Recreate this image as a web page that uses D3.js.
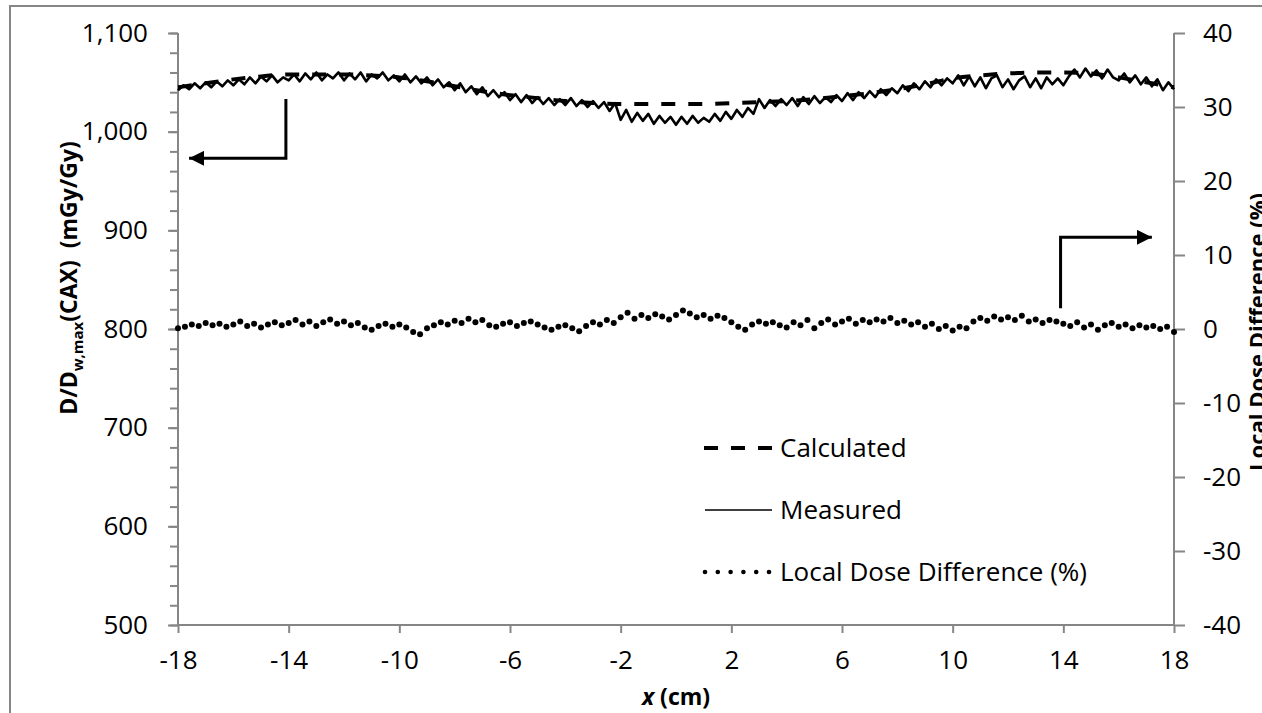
<!DOCTYPE html>
<html>
<head>
<meta charset="utf-8">
<script src="https://cdn.jsdelivr.net/npm/d3@7/dist/d3.min.js"></script>
<style>
  html, body { margin: 0; padding: 0; background: #fff; overflow: hidden; }
  text { font-family: "Open Sans", sans-serif; fill: #000; }
</style>
</head>
<body>
<div id="chart"></div>
<script>
// x positions (cm)
const xStart = -18;
const measuredStep = 0.2;
const diffStep = 0.25;
const calcX = d3.range(-18, 19, 1);

// calculated profile, one value per cm (mGy/Gy)
const calculated = [
  1045, 1049, 1053, 1056, 1058, 1058, 1058, 1057, 1055, 1051,
  1046, 1041, 1037, 1034, 1031, 1029, 1028, 1028, 1028, 1028,
  1029, 1030, 1031, 1033, 1036, 1039, 1043, 1048, 1054, 1057,
  1059, 1060, 1060, 1059, 1055, 1050, 1045
];

// measured profile, every 0.2 cm (mGy/Gy)
const measured = [
  1042, 1047, 1043, 1049, 1044, 1050, 1045, 1051, 1046, 1052,
  1047, 1053, 1048, 1055, 1049, 1056, 1051, 1057, 1050, 1055,
  1052, 1058, 1051, 1059, 1053, 1060, 1052, 1058, 1054, 1060,
  1052, 1059, 1053, 1060, 1051, 1058, 1054, 1060, 1052, 1057,
  1051, 1058, 1050, 1056, 1049, 1055, 1047, 1053, 1045, 1050,
  1042, 1049, 1040, 1046, 1038, 1045, 1036, 1042, 1035, 1040,
  1032, 1038, 1030, 1037, 1029, 1035, 1028, 1034, 1027, 1033,
  1027, 1034, 1026, 1032, 1025, 1031, 1024, 1030, 1021, 1029,
  1012, 1022, 1010, 1019, 1011, 1018, 1008, 1016, 1009, 1015,
  1007, 1015, 1008, 1016, 1009, 1014, 1010, 1018, 1011, 1020,
  1013, 1022, 1015, 1024, 1018, 1033, 1024, 1032, 1026, 1033,
  1027, 1034, 1026, 1035, 1028, 1036, 1029, 1035, 1030, 1037,
  1031, 1039, 1032, 1040, 1034, 1041, 1035, 1043, 1037, 1044,
  1039, 1047, 1041, 1049, 1043, 1051, 1045, 1053, 1047, 1054,
  1049, 1057, 1047, 1056, 1046, 1055, 1044, 1054, 1057, 1045,
  1053, 1043, 1052, 1056, 1045, 1054, 1044, 1055, 1048, 1054,
  1047, 1056, 1063, 1055, 1064, 1056, 1062, 1054, 1063, 1055,
  1052, 1059, 1050, 1057, 1048, 1055, 1046, 1053, 1042, 1050,
  1043
];

// local dose difference, every 0.25 cm (%)
const doseDiff = [
  0.1, 0.3, 0.6, 0.4, 0.8, 0.5, 0.7, 0.3,
  0.6, 1.0, 0.4, 0.7, 0.2, 0.6, 0.9, 0.5,
  0.8, 1.2, 0.6, 1.0, 0.4, 0.9, 1.3, 0.7,
  1.0, 0.5, 0.8, 0.2, -0.1, 0.4, 0.7, 0.3,
  0.6, 0.2, -0.4, -0.7, 0.1, 0.5, 0.9, 0.6,
  1.1, 0.8, 1.4, 0.9, 1.2, 0.5, 0.3, 0.7,
  0.9, 0.4, 0.8, 1.0, 0.6, 0.2, -0.1, 0.3,
  0.5, 0.1, -0.3, 0.4, 0.9, 0.6, 1.2, 0.8,
  1.6, 2.2, 1.4, 1.9, 1.5, 2.0, 1.7, 1.3,
  1.9, 2.5, 2.1, 1.6, 1.9, 1.4, 1.8, 1.5,
  0.9, 0.3, -0.1, 0.6, 1.0, 0.7, 0.9, 0.5,
  0.2, 0.9, 0.5, 1.2, 0.1, 0.8, 1.3, 0.6,
  1.0, 1.4, 0.7, 1.2, 0.9, 1.3, 1.0, 1.5,
  0.8, 1.1, 0.6, 0.9, 0.3, 0.7, 0.0, 0.4,
  -0.2, 0.3, 0.1, 1.0, 1.5, 1.1, 1.7, 1.3,
  1.6, 1.2, 1.8, 1.0, 1.3, 0.8, 1.2, 1.0,
  0.7, 0.4, 0.9, 0.2, 0.6, -0.1, 0.5, 0.8,
  0.3, 0.6, 0.1, 0.5, 0.2, 0.4, 0.0, 0.3,
  -0.4
];

const xTicks = [-18, -14, -10, -6, -2, 2, 6, 10, 14, 18];
const leftTicks = [500, 600, 700, 800, 900, 1000, 1100];
const rightTicks = [-40, -30, -20, -10, 0, 10, 20, 30, 40];
const legendLabels = ['Calculated', 'Measured', 'Local Dose Difference (%)'];

// arrow annotations in data units
const leftArrow = { x: -14.1, yFrom: 1033, yTo: 973, xTip: -17.6 };
const rightArrow = { x: 13.9, yFrom: 2.8, yTo: 12.4, xTip: 17.2 };

const width = 1262, height = 713;
const plot = { left: 178, right: 1174, top: 33, bottom: 625 };
const axisColor = '#868686';
const plainNum = d => String(d);   // hyphen minus, like the source

const svg = d3.select('#chart').append('svg')
  .attr('width', width)
  .attr('height', height);

// outer chart frame (runs off the right and bottom edges)
svg.append('rect')
  .attr('x', 10).attr('y', 6)
  .attr('width', 1300).attr('height', 760)
  .attr('fill', 'none')
  .attr('stroke', axisColor)
  .attr('stroke-width', 2);

const x = d3.scaleLinear().domain([-18, 18]).range([plot.left, plot.right]);
const yL = d3.scaleLinear().domain([500, 1100]).range([plot.bottom, plot.top]);
const yR = d3.scaleLinear().domain([-40, 40]).range([plot.bottom, plot.top]);

// left axis with minor ticks
const leftMinor = svg.append('g')
  .attr('transform', `translate(${plot.left},0)`)
  .call(d3.axisLeft(yL).tickValues(d3.range(500, 1101, 20)).tickSize(8).tickFormat(''));
leftMinor.select('.domain').remove();
leftMinor.selectAll('line').attr('stroke', axisColor).attr('stroke-width', 2);

const leftAxis = svg.append('g')
  .attr('transform', `translate(${plot.left},0)`)
  .call(d3.axisLeft(yL).tickValues(leftTicks).tickSize(10).tickPadding(20)
    .tickFormat(d3.format(',')));

const rightAxis = svg.append('g')
  .attr('transform', `translate(${plot.right},0)`)
  .call(d3.axisRight(yR).tickValues(rightTicks).tickSize(11).tickPadding(18)
    .tickFormat(plainNum));

const bottomAxis = svg.append('g')
  .attr('transform', `translate(0,${plot.bottom})`)
  .call(d3.axisBottom(x).tickValues(xTicks).tickSize(8).tickPadding(18)
    .tickFormat(plainNum));

[leftAxis, rightAxis, bottomAxis].forEach(g => {
  g.select('.domain').attr('stroke', axisColor).attr('stroke-width', 2);
  g.selectAll('.tick line').attr('stroke', axisColor).attr('stroke-width', 2);
  g.selectAll('.tick text')
    .attr('fill', '#000')
    .style('font-family', '"Open Sans", sans-serif')
    .style('font-size', '26px');
});
leftAxis.select('.domain').attr('d', `M0,${plot.top}V${plot.bottom}`);
rightAxis.select('.domain').attr('d', `M0,${plot.top}V${plot.bottom}`);
bottomAxis.select('.domain').attr('d', `M${plot.left},0H${plot.right}`);

// series
const calcLine = d3.line()
  .x((d, i) => x(calcX[i]))
  .y(d => yL(d))
  .curve(d3.curveMonotoneX);

svg.append('path')
  .datum(calculated)
  .attr('d', calcLine)
  .attr('fill', 'none')
  .attr('stroke', '#000')
  .attr('stroke-width', 4)
  .attr('stroke-dasharray', '14,13');

const measLine = d3.line()
  .x((d, i) => x(xStart + i * measuredStep))
  .y(d => yL(d));

svg.append('path')
  .datum(measured)
  .attr('d', measLine)
  .attr('fill', 'none')
  .attr('stroke', '#000')
  .attr('stroke-width', 2.6)
  .attr('stroke-linejoin', 'round');

svg.append('g').selectAll('circle')
  .data(doseDiff)
  .join('circle')
  .attr('cx', (d, i) => x(xStart + i * diffStep))
  .attr('cy', d => yR(d))
  .attr('r', 3)
  .attr('fill', '#000');

// arrows
svg.append('defs').append('marker')
  .attr('id', 'arrow')
  .attr('viewBox', '0 -5 10 10')
  .attr('refX', 10)
  .attr('markerWidth', 5)
  .attr('markerHeight', 5)
  .attr('markerUnits', 'strokeWidth')
  .attr('orient', 'auto')
  .append('path')
  .attr('d', 'M0,-5L10,0L0,5Z')
  .attr('fill', '#000');

const arrowPath = (a, yScale) =>
  `M${x(a.x)},${yScale(a.yFrom)}V${yScale(a.yTo)}H${x(a.xTip)}`;

svg.append('path')
  .attr('d', arrowPath(leftArrow, yL))
  .attr('fill', 'none').attr('stroke', '#000').attr('stroke-width', 3)
  .attr('marker-end', 'url(#arrow)');

svg.append('path')
  .attr('d', arrowPath(rightArrow, yR))
  .attr('fill', 'none').attr('stroke', '#000').attr('stroke-width', 3)
  .attr('marker-end', 'url(#arrow)');

// axis titles
const leftTitle = svg.append('text')
  .attr('transform', 'translate(77,278) rotate(-90)')
  .attr('text-anchor', 'middle')
  .style('font-size', '23px')
  .style('font-weight', 'bold');
leftTitle.append('tspan').text('D/D');
leftTitle.append('tspan').text('w,max').attr('dy', 6).style('font-size', '15px');
leftTitle.append('tspan').text('(CAX)\u00a0\u00a0(mGy/Gy)').attr('dy', -6);

// right title sits partly outside the frame, as in the source
svg.append('text')
  .attr('transform', 'translate(1265,332) rotate(-90)')
  .attr('text-anchor', 'middle')
  .style('font-size', '22px')
  .style('font-weight', 'bold')
  .text('Local Dose Difference (%)');

const xTitle = svg.append('text')
  .attr('x', (plot.left + plot.right) / 2)
  .attr('y', 705)
  .attr('text-anchor', 'middle')
  .style('font-size', '23px')
  .style('font-weight', 'bold');
xTitle.append('tspan').text('x').style('font-style', 'italic');
xTitle.append('tspan').text(' (cm)');

// legend
const legend = svg.append('g').attr('transform', 'translate(704,448)');
const rowGap = 62;

legend.append('line')
  .attr('x1', 0).attr('x2', 70).attr('y1', 0).attr('y2', 0)
  .attr('stroke', '#000').attr('stroke-width', 4)
  .attr('stroke-dasharray', '14,13');

legend.append('line')
  .attr('x1', 1).attr('x2', 68).attr('y1', rowGap).attr('y2', rowGap)
  .attr('stroke', '#000').attr('stroke-width', 1.5);

legend.append('g').selectAll('circle')
  .data(d3.range(6))
  .join('circle')
  .attr('cx', d => 1 + d * 12.8)
  .attr('cy', rowGap * 2)
  .attr('r', 2.3)
  .attr('fill', '#000');

legend.selectAll('text.lbl')
  .data(legendLabels)
  .join('text')
  .attr('class', 'lbl')
  .attr('x', 76)
  .attr('y', (d, i) => i * rowGap)
  .attr('dy', '0.35em')
  .style('font-size', '26px')
  .text(d => d);
</script>
</body>
</html>
